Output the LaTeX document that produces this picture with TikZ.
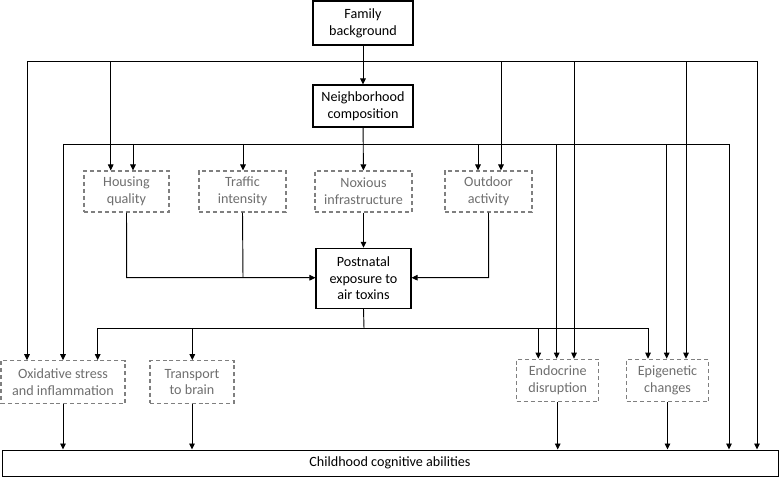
\documentclass[tikz,border=0pt]{standalone}
\usepackage{fontspec}
\setmainfont{Carlito}
\usetikzlibrary{arrows.meta}
\definecolor{dgray}{HTML}{7F7F7F}
\definecolor{tgray}{HTML}{6E6E6E}
\tikzset{
  solidbox/.style={draw=black, line width=0.8pt, align=center, inner sep=0pt, font=\fontsize{10.6}{12.5}\selectfont, text=black},
  dashbox/.style={draw=dgray, line width=0.8pt, dash pattern=on 3pt off 2.2pt, align=center, inner sep=0pt, font=\fontsize{10.6}{12.5}\selectfont, text=tgray},
  conn/.style={draw=black, line width=0.7pt},
  arr/.style={conn, -{Triangle[length=4.5pt,width=4.2pt]}},
}
\begin{document}
\begin{tikzpicture}[x=0.75pt,y=-0.75pt]
\useasboundingbox (0,0) rectangle (780,477);
% nodes
\node[solidbox, minimum width=75pt, minimum height=33pt] (fam) at (363,23) {Family\\background};
\node[solidbox, minimum width=75pt, minimum height=31.5pt] (nbh) at (363,106) {Neighborhood\\composition};
\node[dashbox, minimum width=63.75pt, minimum height=30.75pt] (hous) at (126.5,191.5) {Housing\\quality};
\node[dashbox, minimum width=65.25pt, minimum height=30.75pt] (traf) at (242.5,191.5) {Traffic\\intensity};
\node[dashbox, minimum width=72.75pt, minimum height=30.75pt] (nox) at (363.5,191.5) {Noxious\\infrastructure};
\node[dashbox, minimum width=65.25pt, minimum height=30.75pt] (out) at (488.5,191.5) {Outdoor\\activity};
\node[solidbox, minimum width=71.25pt, minimum height=45pt] (post) at (363.5,278.3) {Postnatal\\exposure to\\air toxins};
\node[dashbox, minimum width=93pt, minimum height=32pt] (oxi) at (63,382) {Oxidative stress\\and inflammation};
\node[dashbox, minimum width=63pt, minimum height=32pt] (tra) at (192,382) {Transport\\to brain};
\node[dashbox, minimum width=61.5pt, minimum height=32pt] (endo) at (557.7,380.5) {Endocrine\\disruption};
\node[dashbox, minimum width=61.5pt, minimum height=32pt] (epi) at (667.5,380.5) {Epigenetic\\changes};
\node[solidbox, line width=0.75pt, minimum width=582pt, minimum height=19.5pt] (child) at (390,463) {Childhood cognitive abilities};
% coordinates on the family line
\coordinate (fL) at (27,61.5);
\coordinate (fR) at (757,61.5);
\coordinate (f1) at (110.7,61.5);
\coordinate (f2) at (501,61.5);
\coordinate (f3) at (574,61.5);
\coordinate (f4) at (686,61.5);
% coordinates on the neighborhood line
\coordinate (nL) at (63,144);
\coordinate (nR) at (729,144);
\coordinate (n1) at (133,144);
\coordinate (n2) at (243,144);
\coordinate (n3) at (478,144);
\coordinate (n4) at (556.7,144);
\coordinate (n5) at (666.7,144);
% exposure join
\coordinate (hj) at (126.7,277.7);
\coordinate (tj) at (243,277.7);
\coordinate (oj) at (488.7,277.7);
% postnatal distribution line
\coordinate (pj) at (364,328.3);
\coordinate (pL) at (97.7,328.3);
\coordinate (pR) at (648,328.3);
\coordinate (p1) at (192.3,328.3);
\coordinate (p2) at (538.3,328.3);
% family
\draw[arr] (fam) -- (nbh);
\draw[conn] (fL) -- (fR);
\draw[arr] (fL) -- (fL |- oxi.north);
\draw[arr] (f1) -- (f1 |- hous.north);
\draw[arr] (f2) -- (f2 |- out.north);
\draw[arr] (f3) -- (f3 |- endo.north);
\draw[arr] (f4) -- (f4 |- epi.north);
\draw[arr] (fR) -- (fR |- child.north);
% neighborhood
\draw[arr] (nbh) -- (nox);
\draw[conn] (nL) -- (nR);
\draw[arr] (nL) -- (nL |- oxi.north);
\draw[arr] (n1) -- (n1 |- hous.north);
\draw[arr] (n2) -- (n2 |- traf.north);
\draw[arr] (n3) -- (n3 |- out.north);
\draw[arr] (n4) -- (n4 |- endo.north);
\draw[arr] (n5) -- (n5 |- epi.north);
\draw[arr] (nR) -- (nR |- child.north);
% into exposure
\draw[arr] (hous.south) -- (hj) -- (post.west |- hj);
\draw[conn] (traf.south) -- (tj);
\draw[arr] (nox) -- (post);
\draw[arr] (out.south) -- (oj) -- (post.east |- oj);
% out of exposure
\draw[conn] (post.south) -- (pj);
\draw[conn] (pL) -- (pR);
\draw[arr] (pL) -- (pL |- oxi.north);
\draw[arr] (p1) -- (p1 |- tra.north);
\draw[arr] (p2) -- (p2 |- endo.north);
\draw[arr] (pR) -- (pR |- epi.north);
% mechanisms to outcome
\draw[arr] (oxi.south) -- (oxi.south |- child.north);
\draw[arr] (tra.south) -- (tra.south |- child.north);
\draw[arr] (endo.south) -- (endo.south |- child.north);
\draw[arr] (epi.south) -- (epi.south |- child.north);
\end{tikzpicture}
\end{document}
